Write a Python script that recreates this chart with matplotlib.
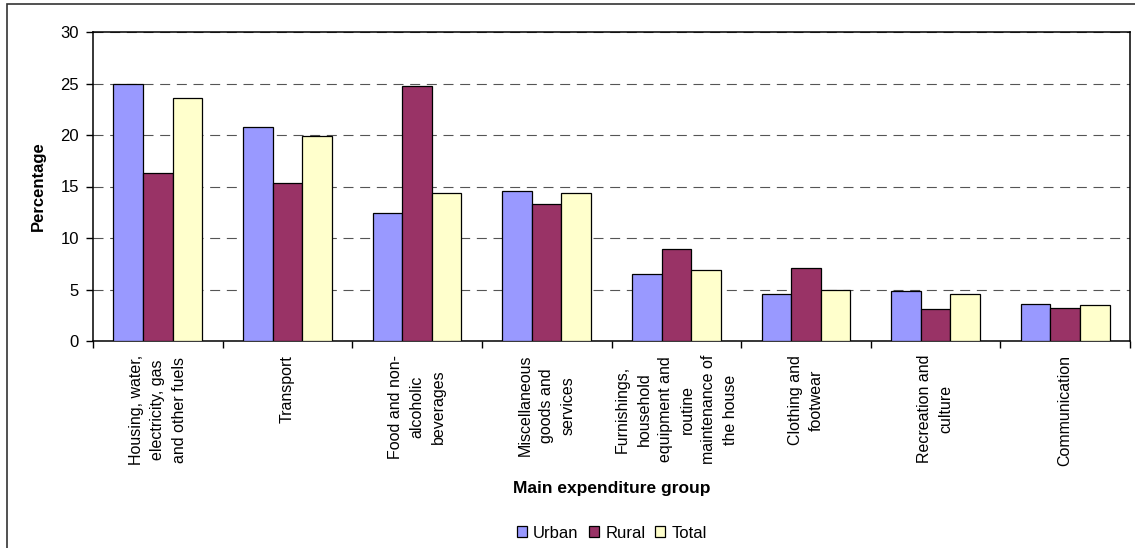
import numpy as np
import matplotlib
matplotlib.use('Agg')
import matplotlib.pyplot as plt
from matplotlib.patches import Rectangle

plt.rcParams['font.family'] = ['Liberation Sans', 'DejaVu Sans']

# data
groups = ["Housing, water,\nelectricity, gas\nand other fuels",
          "Transport",
          "Food and non-\nalcoholic\nbeverages",
          "Miscellaneous\ngoods and\nservices",
          "Furnishings,\nhousehold\nequipment and\nroutine\nmaintenance of\nthe house",
          "Clothing and\nfootwear",
          "Recreation and\nculture",
          "Communication"]
urban = [25.0, 20.8, 12.4, 14.6, 6.5, 4.6, 4.9, 3.6]
rural = [16.3, 15.3, 24.8, 13.3, 8.9, 7.1, 3.1, 3.2]
total = [23.6, 19.9, 14.4, 14.4, 6.9, 5.0, 4.6, 3.5]
series_names = ["Urban", "Rural", "Total"]
colors = ["#9999FF", "#993366", "#FFFFCC"]

fig = plt.figure(figsize=(11.35, 5.48), dpi=100)
ax = fig.add_axes([93/1135, 1-341/548, (1130-93)/1135, (341-32)/548])

x = np.arange(len(groups))
w = 0.228
for i, (vals, name, c) in enumerate(zip([urban, rural, total], series_names, colors)):
    ax.bar(x + (i-1)*w, vals, w, color=c, edgecolor='black', linewidth=0.9,
           label=name, zorder=3)

ax.set_xlim(-0.5, len(groups)-0.5)
ax.set_ylim(0, 30)
ax.set_yticks(range(0, 31, 5))
ax.set_xticks(x)
ax.set_xticklabels(groups, rotation=90, fontsize=11.5, linespacing=1.55)
ax.set_xticks(np.arange(-0.5, len(groups), 1), minor=True)
ax.tick_params(axis='x', which='major', length=0, pad=10)
ax.tick_params(axis='x', which='minor', length=5, width=1, direction='out')
ax.tick_params(axis='y', length=5, width=1, direction='out', pad=5, labelsize=12)

ax.yaxis.grid(True, linestyle=(0, (9, 6)), color='#555555', linewidth=0.8, zorder=0)
for s in ax.spines.values():
    s.set_linewidth(1.1)
    s.set_color('black')

ax.set_ylabel("Percentage", fontsize=12, fontweight='bold')
ax.yaxis.set_label_coords(-0.045, 0.5)
fig.text(612/1135, 1-488/548, "Main expenditure group", fontsize=12.5,
         fontweight='bold', ha='center', va='center')

fig.legend(loc='center', bbox_to_anchor=(612/1135, 1-533/548), ncol=3,
           frameon=False, fontsize=12, handlelength=0.6, handleheight=0.6,
           handletextpad=0.4, columnspacing=0.6)

# chart area border (only left and top visible in the crop)
fig.add_artist(Rectangle((7/1135, -0.05), 1.1, 1.0427, transform=fig.transFigure,
                         fill=False, edgecolor='#333333', linewidth=1.2))

fig.savefig("out.png", dpi=100)
